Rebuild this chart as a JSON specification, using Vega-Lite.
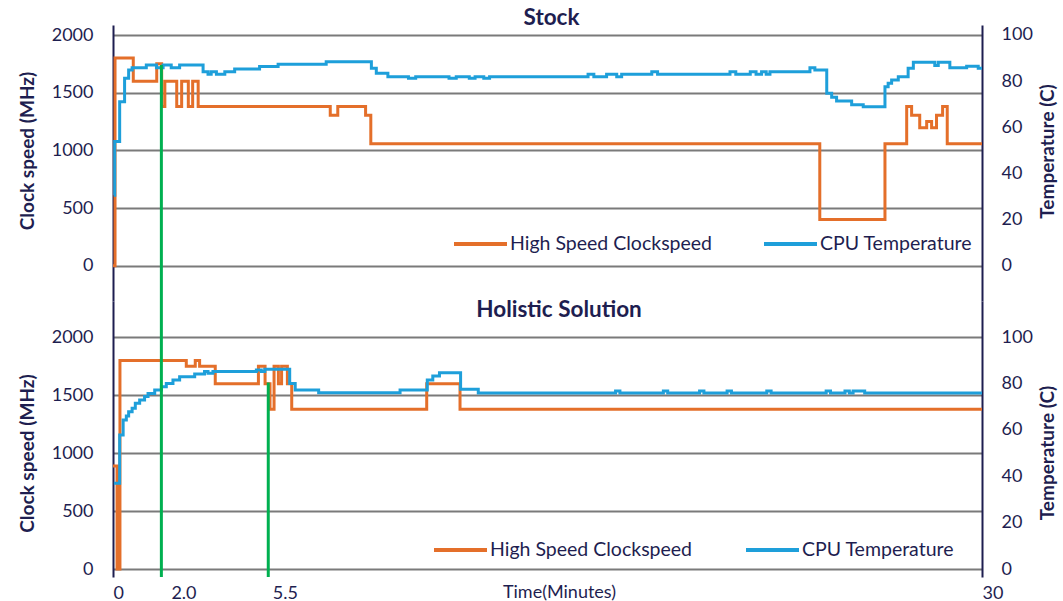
{
  "$schema": "https://vega.github.io/schema/vega-lite/v6.json",
  "padding": {"left": 18, "top": 6, "right": 0, "bottom": 0},
  "bounds": "flush",
  "spacing": 0,
  "background": "white",
  "config": {
    "view": {"stroke": null},
    "font": "Lato",
    "axis": {
      "labelFont": "Lato", "labelFontSize": 18, "labelColor": "#1E1E50",
      "titleFont": "Lato", "titleFontSize": 19, "titleFontWeight": "bold", "titleColor": "#1E1E50",
      "ticks": false, "domainColor": "#1E1E50", "domainWidth": 2,
      "gridColor": "#7a7a7a", "gridWidth": 1.8, "gridOpacity": 1, "format": "d"
    },
    "legend": {
      "labelFont": "Lato", "labelFontSize": 19.5, "labelColor": "#1E1E50",
      "symbolType": "stroke", "symbolSize": 2809, "symbolStrokeWidth": 4,
      "labelOffset": 1, "padding": 0, "title": null, "orient": "none", "direction": "horizontal", "labelLimit": 400
    },
    "title": {"font": "Lato", "fontWeight": "bold", "fontSize": 22.5, "color": "#1E1E50", "frame": "group", "anchor": "middle", "baseline": "alphabetic"}
  },
  "datasets": {
    "topClk": [
      {"t": 0, "v": 0}, {"t": 0.07, "v": 1800}, {"t": 0.70, "v": 1600}, {"t": 1.51, "v": 1750},
      {"t": 1.68, "v": 1380}, {"t": 1.79, "v": 1600}, {"t": 2.20, "v": 1380}, {"t": 2.37, "v": 1600},
      {"t": 2.60, "v": 1380}, {"t": 2.75, "v": 1600}, {"t": 2.94, "v": 1380}, {"t": 7.50, "v": 1305},
      {"t": 7.76, "v": 1380}, {"t": 8.72, "v": 1305}, {"t": 8.90, "v": 1058}, {"t": 24.40, "v": 400},
      {"t": 26.65, "v": 1058}, {"t": 27.40, "v": 1380}, {"t": 27.57, "v": 1305}, {"t": 27.85, "v": 1195},
      {"t": 28.09, "v": 1250}, {"t": 28.26, "v": 1195}, {"t": 28.43, "v": 1305}, {"t": 28.64, "v": 1380},
      {"t": 28.80, "v": 1058}, {"t": 30, "v": 1058}
    ],
    "topTmp": [
      {"t": 0.03, "v": 30.5}, {"t": 0.06, "v": 53.8}, {"t": 0.23, "v": 71.1}, {"t": 0.40, "v": 81.2},
      {"t": 0.54, "v": 84.8}, {"t": 0.66, "v": 85.8}, {"t": 1.15, "v": 87.0}, {"t": 1.50, "v": 85.8},
      {"t": 1.73, "v": 87.0}, {"t": 2.01, "v": 85.8}, {"t": 2.30, "v": 87.0}, {"t": 3.11, "v": 84.1},
      {"t": 3.28, "v": 83.0}, {"t": 3.39, "v": 84.1}, {"t": 3.57, "v": 83.0}, {"t": 3.86, "v": 84.1},
      {"t": 4.20, "v": 85.3}, {"t": 5.06, "v": 86.3}, {"t": 5.70, "v": 87.3}, {"t": 7.36, "v": 88.4},
      {"t": 8.92, "v": 85.6}, {"t": 9.09, "v": 83.4}, {"t": 9.49, "v": 81.9}, {"t": 10.2, "v": 81.2},
      {"t": 10.45, "v": 81.9}, {"t": 11.6, "v": 81.2}, {"t": 11.85, "v": 81.9}, {"t": 12.3, "v": 81.2},
      {"t": 12.5, "v": 81.9}, {"t": 12.8, "v": 81.2}, {"t": 13.0, "v": 81.9}, {"t": 16.4, "v": 83.0},
      {"t": 16.6, "v": 81.9}, {"t": 17.04, "v": 83.0}, {"t": 17.39, "v": 81.9}, {"t": 17.56, "v": 83.0},
      {"t": 18.6, "v": 84.1}, {"t": 18.8, "v": 83.0}, {"t": 21.3, "v": 84.1}, {"t": 21.5, "v": 83.0},
      {"t": 22.0, "v": 84.1}, {"t": 22.2, "v": 83.0}, {"t": 22.39, "v": 84.1}, {"t": 22.55, "v": 83.0},
      {"t": 22.68, "v": 84.1}, {"t": 24.06, "v": 85.8}, {"t": 24.23, "v": 84.8}, {"t": 24.64, "v": 74.7},
      {"t": 24.81, "v": 73.0}, {"t": 24.98, "v": 71.4}, {"t": 25.50, "v": 69.8}, {"t": 25.90, "v": 68.9},
      {"t": 26.65, "v": 77.6}, {"t": 26.76, "v": 79.1}, {"t": 26.88, "v": 80.5}, {"t": 27.11, "v": 81.9},
      {"t": 27.45, "v": 85.6}, {"t": 27.63, "v": 88.2}, {"t": 28.37, "v": 86.8}, {"t": 28.49, "v": 88.2},
      {"t": 28.89, "v": 85.8}, {"t": 29.47, "v": 86.5}, {"t": 29.87, "v": 85.6}, {"t": 30, "v": 85.6}
    ],
    "topGreen": [{"t": 1.67, "y": 1740, "y2": -306}],
    "botClk": [
      {"t": 0, "v": 890}, {"t": 0.14, "v": 0}, {"t": 0.24, "v": 1800}, {"t": 2.53, "v": 1750},
      {"t": 2.84, "v": 1800}, {"t": 2.99, "v": 1750}, {"t": 3.53, "v": 1600}, {"t": 5.02, "v": 1750},
      {"t": 5.25, "v": 1600}, {"t": 5.42, "v": 1380}, {"t": 5.56, "v": 1750}, {"t": 5.71, "v": 1600},
      {"t": 5.82, "v": 1750}, {"t": 6.02, "v": 1600}, {"t": 6.17, "v": 1380}, {"t": 10.83, "v": 1600},
      {"t": 11.98, "v": 1380}, {"t": 30, "v": 1380}
    ],
    "botTmp": [
      {"t": 0.03, "v": 37.0}, {"t": 0.23, "v": 57.8}, {"t": 0.35, "v": 64.3}, {"t": 0.46, "v": 66.0},
      {"t": 0.54, "v": 67.9}, {"t": 0.66, "v": 69.4}, {"t": 0.77, "v": 71.5}, {"t": 0.92, "v": 72.9},
      {"t": 1.09, "v": 74.4}, {"t": 1.21, "v": 75.8}, {"t": 1.44, "v": 77.3}, {"t": 1.67, "v": 78.7},
      {"t": 1.84, "v": 80.1}, {"t": 2.07, "v": 81.6}, {"t": 2.30, "v": 83.0}, {"t": 2.82, "v": 84.2},
      {"t": 3.16, "v": 85.2}, {"t": 3.28, "v": 84.5}, {"t": 3.45, "v": 85.2}, {"t": 4.95, "v": 85.9},
      {"t": 5.12, "v": 85.2}, {"t": 5.24, "v": 86.2}, {"t": 6.10, "v": 80.1}, {"t": 6.29, "v": 77.3},
      {"t": 7.10, "v": 76.1}, {"t": 9.91, "v": 77.3}, {"t": 10.85, "v": 81.6}, {"t": 11.04, "v": 83.3},
      {"t": 11.27, "v": 84.7}, {"t": 12.00, "v": 77.6}, {"t": 12.61, "v": 76.0}, {"t": 17.35, "v": 76.8},
      {"t": 17.5, "v": 76.0}, {"t": 19.0, "v": 76.8}, {"t": 19.15, "v": 76.0}, {"t": 20.25, "v": 76.8},
      {"t": 20.4, "v": 76.0}, {"t": 21.2, "v": 76.8}, {"t": 21.35, "v": 76.0}, {"t": 22.57, "v": 76.8},
      {"t": 22.72, "v": 76.0}, {"t": 24.62, "v": 76.8}, {"t": 24.77, "v": 76.0}, {"t": 25.27, "v": 76.8},
      {"t": 25.42, "v": 76.0}, {"t": 25.55, "v": 76.8}, {"t": 25.95, "v": 76.0}, {"t": 30, "v": 76.0}
    ],
    "botGreen": [{"t": 1.67, "y": 2313, "y2": -69}, {"t": 5.36, "y": 1610, "y2": -69}]
  },
  "vconcat": [
    {
      "width": 869, "height": 276,
      "title": {"text": "Stock", "offset": -4, "dx": 4},
      "layer": [
        {
          "data": {"name": "topClk"},
          "mark": {"type": "line", "interpolate": "step-after", "strokeWidth": 3},
          "encoding": {
            "x": {"field": "t", "type": "quantitative", "scale": {"domain": [0, 30], "nice": false, "zero": false}, "axis": null},
            "y": {"field": "v", "type": "quantitative", "scale": {"domain": [-306, 2086.7], "nice": false, "zero": false},
              "axis": {"values": [0, 500, 1000, 1500, 2000], "grid": true, "title": "Clock speed (MHz)", "labelPadding": 20, "titlePadding": 14, "titleY": 125.5, "titleAlign": "center"}},
            "color": {"datum": "High Speed Clockspeed", "type": "nominal",
              "scale": {"domain": ["High Speed Clockspeed", "CPU Temperature"], "range": ["#E46F2A", "#1E9FDA"]},
              "legend": {"legendX": 339, "legendY": 190.5, "columnPadding": 43}}
          }
        },
        {
          "data": {"name": "topTmp"},
          "mark": {"type": "line", "interpolate": "step-after", "strokeWidth": 3},
          "encoding": {
            "x": {"field": "t", "type": "quantitative", "scale": {"domain": [0, 30], "nice": false, "zero": false}, "axis": null},
            "y": {"field": "v", "type": "quantitative", "scale": {"domain": [-15.3, 104.33], "nice": false, "zero": false},
              "axis": {"orient": "right", "values": [0, 20, 40, 60, 80, 100], "grid": false, "title": "Temperature (C)", "labelPadding": 19, "titleAngle": -90, "titleBaseline": "top", "titlePadding": 6, "titleY": 126, "titleAlign": "center"}},
            "color": {"datum": "CPU Temperature", "type": "nominal",
              "scale": {"domain": ["High Speed Clockspeed", "CPU Temperature"], "range": ["#E46F2A", "#1E9FDA"]},
              "legend": {"legendX": 339, "legendY": 190.5, "columnPadding": 43}}
          }
        },
        {
          "data": {"name": "topGreen"},
          "mark": {"type": "rule", "color": "#00B050", "strokeWidth": 3},
          "encoding": {
            "x": {"field": "t", "type": "quantitative", "scale": {"domain": [0, 30], "nice": false, "zero": false}, "axis": null},
            "y": {"field": "y", "type": "quantitative", "scale": {"domain": [-306, 2086.7], "nice": false, "zero": false}, "axis": null},
            "y2": {"field": "y2"}
          }
        }
      ],
      "resolve": {"scale": {"y": "independent"}}
    },
    {
      "width": 869, "height": 276,
      "title": {"text": "Holistic Solution", "offset": -22, "dx": 11.5},
      "layer": [
        {
          "data": {"name": "botClk"},
          "mark": {"type": "line", "interpolate": "step-after", "strokeWidth": 3},
          "encoding": {
            "x": {"field": "t", "type": "quantitative", "scale": {"domain": [0, 30], "nice": false, "zero": false},
              "axis": {"values": [0, 2, 5.5, 30], "labelExpr": "datum.value == 0 ? '0' : datum.value == 30 ? '30' : format(datum.value, '.1f')", "grid": false, "domain": false, "labelAlign": "left", "labelFlush": false, "labelOffset": 0, "labelPadding": 21, "labelBaseline": "alphabetic", "title": "Time(Minutes)", "titleFontWeight": "normal", "titleFontSize": 18, "titleX": 446, "titleY": 20, "titleBaseline": "alphabetic", "titleAlign": "center"}},
            "y": {"field": "v", "type": "quantitative", "scale": {"domain": [-69.05, 2313.3], "nice": false, "zero": false},
              "axis": {"values": [0, 500, 1000, 1500, 2000], "grid": true, "title": "Clock speed (MHz)", "labelPadding": 20, "titlePadding": 14, "titleY": 152, "titleAlign": "center"}},
            "color": {"datum": "High Speed Clockspeed", "type": "nominal",
              "scale": {"domain": ["High Speed Clockspeed", "CPU Temperature"], "range": ["#E46F2A", "#1E9FDA"]},
              "legend": {"legendX": 319, "legendY": 220.5, "columnPadding": 45}}
          }
        },
        {
          "data": {"name": "botTmp"},
          "mark": {"type": "line", "interpolate": "step-after", "strokeWidth": 3},
          "encoding": {
            "x": {"field": "t", "type": "quantitative", "scale": {"domain": [0, 30], "nice": false, "zero": false}},
            "y": {"field": "v", "type": "quantitative", "scale": {"domain": [-3.45, 115.67], "nice": false, "zero": false},
              "axis": {"orient": "right", "values": [0, 20, 40, 60, 80, 100], "grid": false, "title": "Temperature (C)", "labelPadding": 19, "titleAngle": -90, "titleBaseline": "top", "titlePadding": 6, "titleY": 151.5, "titleAlign": "center"}},
            "color": {"datum": "CPU Temperature", "type": "nominal",
              "scale": {"domain": ["High Speed Clockspeed", "CPU Temperature"], "range": ["#E46F2A", "#1E9FDA"]},
              "legend": {"legendX": 319, "legendY": 220.5, "columnPadding": 45}}
          }
        },
        {
          "data": {"name": "botGreen"},
          "mark": {"type": "rule", "color": "#00B050", "strokeWidth": 3},
          "encoding": {
            "x": {"field": "t", "type": "quantitative", "scale": {"domain": [0, 30], "nice": false, "zero": false}},
            "y": {"field": "y", "type": "quantitative", "scale": {"domain": [-69.05, 2313.3], "nice": false, "zero": false}, "axis": null},
            "y2": {"field": "y2"}
          }
        }
      ],
      "resolve": {"scale": {"y": "independent"}}
    }
  ],
  "resolve": {"scale": {"color": "independent"}, "legend": {"color": "independent"}}
}
